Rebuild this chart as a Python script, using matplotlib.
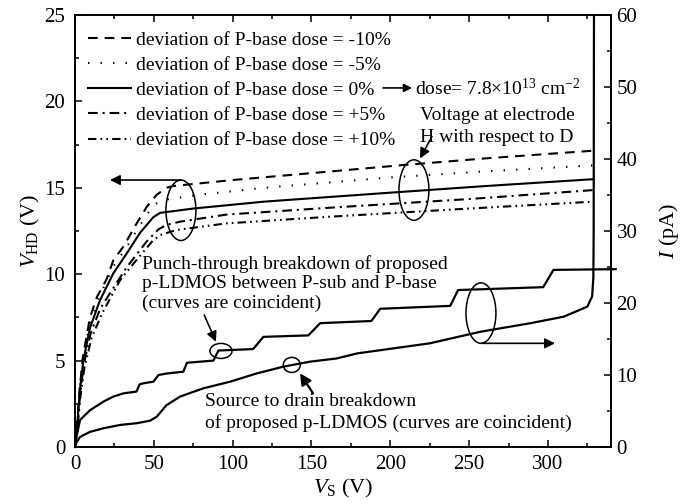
import matplotlib
matplotlib.use('Agg')
import matplotlib.pyplot as plt
from matplotlib.patches import Ellipse

plt.rcParams['font.family'] = ['Liberation Serif', 'DejaVu Serif']
plt.rcParams['mathtext.fontset'] = 'custom'
plt.rcParams['mathtext.rm'] = 'Liberation Serif'
plt.rcParams['mathtext.it'] = 'Liberation Serif:italic'
plt.rcParams['lines.scale_dashes'] = False

# V_HD curves (left axis), V_S in volts
vs_m10 = [0, 1.5, 3, 5, 9.5, 14, 20, 24.3, 30.7, 39.2, 45.5, 51.8, 58, 62, 100, 150, 206, 260, 329]
vhd_m10 = [0, 1.6, 3.4, 5.2, 7.5, 8.7, 9.7, 10.8, 11.6, 12.95, 13.9, 14.6, 15.0, 15.1, 15.45, 15.85, 16.3, 16.7, 17.15]

vs_m5 = [0, 1.6, 3, 5, 9.5, 15, 24, 33, 41, 49.7, 56, 79, 120, 200, 260, 329]
vhd_m5 = [0, 1.6, 3.3, 5.1, 7.2, 8.6, 10.4, 11.6, 12.8, 14.0, 14.3, 14.6, 15.0, 15.6, 15.95, 16.3]

vs_0 = [0, 1.7, 3, 5.3, 9.5, 15.9, 24.3, 32.8, 41.3, 49.7, 54, 75, 120, 194, 260, 329]
vhd_0 = [0, 1.6, 3.2, 5.0, 6.9, 8.5, 10.05, 11.2, 12.4, 13.3, 13.55, 13.8, 14.2, 14.68, 15.1, 15.5]

vs_p5 = [0, 1.8, 3.2, 5.6, 10, 16, 22.2, 32.8, 45.5, 53, 58, 66.6, 96, 162, 250, 329]
vhd_p5 = [0, 1.5, 3.0, 4.8, 6.6, 8.0, 8.9, 10.4, 11.9, 12.6, 12.85, 13.04, 13.45, 13.85, 14.35, 14.87]

vs_p10 = [0, 1.9, 3.4, 6, 10.5, 17, 28.6, 37, 49.7, 55, 64.5, 96, 162, 250, 329]
vhd_p10 = [0, 1.5, 2.9, 4.6, 6.3, 7.7, 9.66, 10.6, 11.98, 12.3, 12.56, 12.94, 13.33, 13.8, 14.2]

# current curves (right axis), pA
vs_pt = [0, 1, 3.2, 9.5, 18, 24.3, 30.7, 39, 41, 43.4, 49.7, 53, 58, 68.7, 71, 87.8, 91, 113, 119.5,
         148, 155.5, 188, 193.6, 238, 243, 297, 303.5, 343]
i_pt = [0, 1.5, 3.75, 5.1, 6.3, 7.0, 7.45, 7.7, 8.7, 8.85, 9.07, 10.0, 10.2, 10.46, 11.7, 12.0, 13.4, 13.6, 15.3,
        15.5, 17.2, 17.5, 19.2, 19.6, 21.8, 22.2, 24.6, 24.7]

vs_sd = [0, 0.8, 3.2, 9.5, 18, 28.6, 39, 47.6, 51.8, 58, 66.6, 81.4, 98.4, 115, 132, 149, 166, 179,
         225, 257, 289, 310, 325, 328, 328.8, 329, 329.2]
i_sd = [0, 0.6, 1.4, 2.1, 2.6, 3.06, 3.3, 3.65, 4.2, 5.8, 7.0, 8.15, 9.07, 10.2, 11.15, 11.85, 12.3, 13.0,
        14.4, 16.0, 17.2, 18.1, 19.5, 20.9, 23.5, 30, 62]

labels = ['deviation of P-base dose = -10%', 'deviation of P-base dose = -5%',
          'deviation of P-base dose = 0%', 'deviation of P-base dose = +5%',
          'deviation of P-base dose = +10%']
styles = [(0, (7, 5)), (0, (1, 8)), '-', (0, (7, 3.5, 1.5, 3.5)), (0, (6, 3, 1.2, 3, 1.2, 3))]

fig = plt.figure(figsize=(6.83, 5.04), dpi=100)
ax = fig.add_axes([0.1098, 0.1131, 0.7848, 0.8571])
ax2 = ax.twinx()

curves = [(vs_m10, vhd_m10), (vs_m5, vhd_m5), (vs_0, vhd_0), (vs_p5, vhd_p5), (vs_p10, vhd_p10)]
for (x, y), ls, lab in zip(curves, styles, labels):
	ax.plot(x, y, color='black', linestyle=ls, linewidth=1.5, label=lab)

ax2.plot(vs_pt, i_pt, color='black', linewidth=1.6, clip_on=False)
ax2.plot(vs_sd, i_sd, color='black', linewidth=1.6)

ax.set_xlim(0, 340)
ax.set_ylim(0, 25)
ax2.set_ylim(0, 60)
ax.set_xticks(range(0, 301, 50))
ax.set_xticks(range(0, 341, 25), minor=True)
ax.set_yticks(range(0, 26, 5))
ax.set_yticks([i * 2.5 for i in range(11)], minor=True)
ax2.set_yticks(range(0, 61, 10))
ax2.set_yticks(range(0, 61, 5), minor=True)

for a in (ax, ax2):
	for s in a.spines.values():
		s.set_linewidth(1.2)
ax.tick_params(which='both', direction='in', top=True, right=False, labelsize=15, width=1.1)
ax.tick_params(which='major', length=5)
ax.tick_params(which='minor', length=2.8)
ax.tick_params(axis='y', pad=7)
ax.tick_params(axis='x', pad=6)
ax2.tick_params(which='both', direction='in', labelsize=15, width=1.1, pad=4)
ax2.tick_params(which='major', length=5)
ax2.tick_params(which='minor', length=2.8)

ax.set_xlabel(r'$V_{\rm S}$ (V)', fontsize=16, labelpad=2)
ax.set_ylabel(r'$V_{\rm HD}$ (V)', fontsize=16, labelpad=2)
ax2.set_ylabel(r'$I$ (pA)', fontsize=16, labelpad=14)

ax.legend(loc='upper left', bbox_to_anchor=(0.025, 0.963), frameon=False, fontsize=14,
          handlelength=2.2, handletextpad=0.25, labelspacing=0.39, borderaxespad=0, borderpad=0)

# dose note
ax.annotate('', xy=(213.8, 20.78), xytext=(195.4, 20.78),
            arrowprops=dict(arrowstyle='-|>', color='black', lw=1.2, mutation_scale=12, shrinkA=0, shrinkB=0))
ax.text(215.7, 20.75, r'dose= 7.8$\times$10$^{13}$ cm$^{-2}$', fontsize=14, va='center', ha='left')

# ellipses
for cx, cy, w, h in [(67.2, 13.7, 19, 3.5), (215, 14.87, 19, 3.5), (257.5, 7.75, 19, 3.5),
                     (92.6, 5.56, 14, 0.87), (137.5, 4.75, 10.8, 0.87)]:
	ax.add_patch(Ellipse((cx, cy), w, h, fill=False, edgecolor='black', lw=1.1))

arrow = dict(arrowstyle='-|>', color='black', lw=1.2, mutation_scale=15, shrinkA=0, shrinkB=0)
ax.annotate('', xy=(22.2, 15.45), xytext=(67.2, 15.45), arrowprops=arrow)
ax.annotate('', xy=(304.5, 6.0), xytext=(258, 6.0), arrowprops=arrow)
ax.annotate('', xy=(218.8, 16.7), xytext=(226.4, 17.96), arrowprops=arrow)
ax.annotate('', xy=(89.4, 6.09), xytext=(82, 7.64), arrowprops=arrow)
ax.annotate('', xy=(142.7, 4.27), xytext=(151, 3.1),
            arrowprops=dict(arrowstyle='-|>', color='black', lw=1.6, mutation_scale=17, shrinkA=0, shrinkB=0))

ax.text(267.7, 18.55, 'Voltage at electrode\nH with respect to D', fontsize=14,
        ha='center', va='center', linespacing=1.35)
ax.text(42.5, 9.45, 'Punch-through breakdown of proposed\np-LDMOS between P-sub and P-base\n(curves are coincident)',
        fontsize=14, ha='left', va='center', linespacing=1.18)
ax.text(82.5, 2.0, 'Source to drain breakdown\nof proposed p-LDMOS (curves are coincident)',
        fontsize=14, ha='left', va='center', linespacing=1.25)

fig.savefig('out.png', dpi=100)
